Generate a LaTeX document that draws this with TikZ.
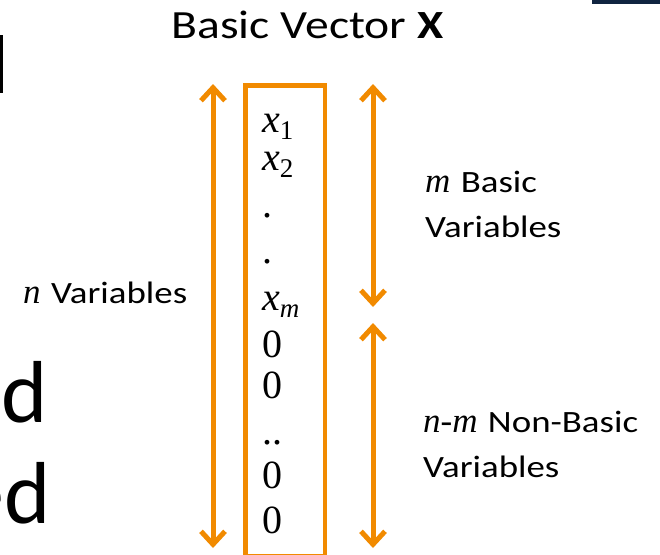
\documentclass[tikz,border=0pt]{standalone}
\usepackage{fontspec}
\setmainfont{Carlito}[FakeStretch=1.19]
\newfontfamily\plainfont{Carlito}
\newfontfamily\tnr{Liberation Serif}
\usetikzlibrary{arrows.meta}
\definecolor{org}{RGB}{241,138,0}
\definecolor{navy}{RGB}{16,36,64}
\newcommand\vsub[1]{\raisebox{-7pt}{\fontsize{27}{27}\selectfont #1}}
\newcommand\lvar[1]{{\tnr\itshape\fontsize{35}{35}\selectfont #1}}
\begin{document}
\begin{tikzpicture}[x=1pt,y=-1pt,
  dbl/.style={draw=org, line width=5pt, {Straight Barb[length=13pt,width=24pt]}-{Straight Barb[length=13pt,width=24pt]}},
  lbl/.style={anchor=base west, inner sep=0pt, font=\fontsize{31}{37}\selectfont},
  ent/.style={anchor=base west, inner sep=0pt, font=\tnr\fontsize{40}{46}\selectfont},
  frag/.style={anchor=base east, inner sep=0pt, font=\plainfont\fontsize{88}{100}\selectfont},
  vecbox/.style={draw=org, line width=4.5pt, minimum width=79.5pt, minimum height=470.5pt, inner sep=0pt}]
\useasboundingbox (0,0) rectangle (660,554);
% cropped fragments at the edges
\fill[black] (0,35) rectangle (3,93);
\fill[navy] (592,0) rectangle (660,3.5);
\node[frag] (fd1) at (48,422) {d};
\node[frag] (fd2) at (51,523) {ed};
% title
\node[anchor=base, inner sep=0pt, font=\fontsize{40}{46}\selectfont] (title) at (307.5,38) {Basic Vector \textbf{X}};
% vector box
\node[vecbox] (vec) at (285.25,320.75) {};
\node[ent] (e1) at (262,132) {\textit{x}\vsub{1}};
\node[ent] (e2) at (262,170) {\textit{x}\vsub{2}};
\node[ent] (e3) at (262,217) {.};
\node[ent] (e4) at (262,263) {.};
\node[ent] (e5) at (262,310) {\textit{x}\vsub{\textit{m}}};
\node[ent] (e6) at (262,357) {0};
\node[ent] (e7) at (262,398) {0};
\node[ent] (e8) at (262,444) {..};
\node[ent] (e9) at (262,488) {0};
\node[ent] (e10) at (262,533) {0};
% arrows
\coordinate (lt) at (213,84);
\coordinate (lb) at (213,548);
\coordinate (rt1) at (373,84);
\coordinate (rb1) at (373,307);
\coordinate (rt2) at (373,323);
\coordinate (rb2) at (373,548);
\draw[dbl] (lt) -- (lb);
\draw[dbl] (rt1) -- (rb1);
\draw[dbl] (rt2) -- (rb2);
% labels
\node[lbl] (ln) at (23,303) {\lvar{n}\hspace{2pt} Variables};
\node[lbl] (lm1) at (425,192) {\lvar{m}\hspace{2pt} Basic};
\node[lbl] (lm2) at (425,237) {Variables};
\node[lbl] (lnm1) at (423,432) {\lvar{n-m}\hspace{2pt} Non-Basic};
\node[lbl] (lnm2) at (423,477) {Variables};
\end{tikzpicture}
\end{document}
